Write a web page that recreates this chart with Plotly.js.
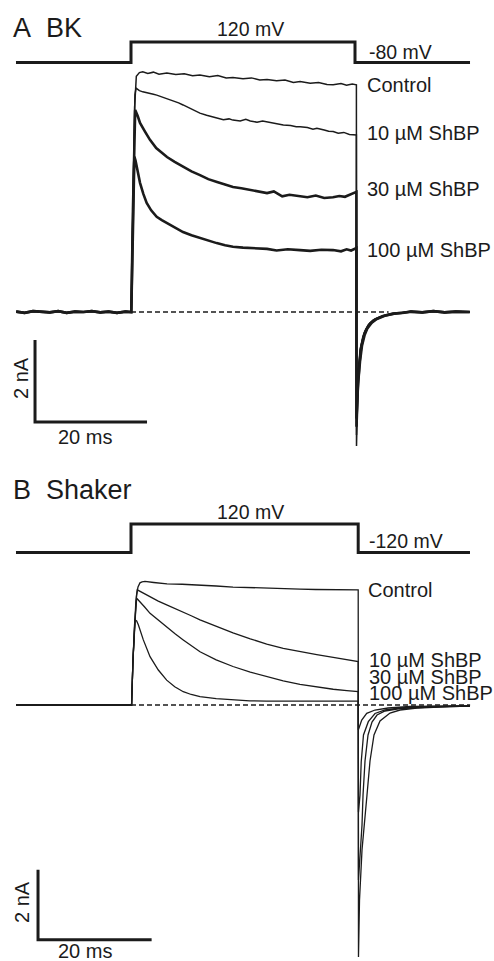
<!DOCTYPE html>
<html>
<head>
<meta charset="utf-8">
<script src="https://cdn.plot.ly/plotly-3.0.1.min.js"></script>
<style>html,body{margin:0;padding:0;background:#fff;}#chart{width:494px;height:961px;}</style>
</head>
<body>
<div id="chart"></div>
<script>
// ---------------- Panel A : BK ----------------
// voltage protocol (mV)
const vA_t = [-20.54, 0, 0, 40, 40, 60.54];
const vA_mV = [-80, -80, 120, 120, -80, -80];

// shared pre-pulse baseline (ms, nA)
const preA_t = [-20.5,-19,-17.5,-16,-14.5,-13,-11.5,-10,-8.5,-7,-5.5,-4,-2.5,-1,0];
const preA_I = [0.01,-0.02,0.02,0,-0.01,0.02,-0.02,0.01,0,0.02,-0.01,0.01,-0.02,0.01,0];
// shared post-tail baseline
const postA_t = [50,52,54,56,58,60.5];
const postA_I = [0.01,-0.01,0.02,-0.01,0.01,0];

// Control
const ctrlA_t = [0.05,0.36,0.65,0.95,1.5,2.1,3,4,5,6.4,8,9.5,11,12.3,14,15.5,17,18.2,20,21.5,23,24.3,26,27.5,29,30.2,32,33.5,35,36.1,37.5,38.5,39.5,40.25];
const ctrlA_I = [0,2.6,5.0,5.75,5.84,5.86,5.82,5.85,5.80,5.83,5.79,5.81,5.76,5.78,5.74,5.77,5.71,5.72,5.69,5.71,5.66,5.67,5.64,5.66,5.60,5.62,5.58,5.60,5.55,5.54,5.57,5.53,5.56,5.54];
const ctrlA_tailT = [40.27,40.45,40.63,40.89,41.25,41.61,42.32,43.21,44.46,46.25,48.04];
const ctrlA_tailI = [-3.27,-2.15,-1.41,-0.93,-0.68,-0.51,-0.32,-0.20,-0.12,-0.05,-0.02];

// 10 uM ShBP
const s10A_t = [0.05,0.35,0.7,0.9,1.5,2.1,3,4,4.6,5.5,6.4,7.5,8.5,9.3,10.5,11.5,12.3,13.5,14.5,15.3,16.5,17.5,18.2,19.5,20.5,21.3,22.5,23.5,24.3,25.5,26.5,27.2,28.5,29.5,30.2,31.5,32.5,33.2,34.5,35.3,36.1,37,38,39,40.25];
const s10A_I = [0,2.6,5.3,5.46,5.40,5.37,5.35,5.31,5.29,5.25,5.21,5.15,5.10,5.05,4.97,4.90,4.85,4.80,4.76,4.73,4.69,4.71,4.68,4.66,4.70,4.66,4.63,4.66,4.64,4.60,4.58,4.56,4.55,4.52,4.52,4.50,4.46,4.48,4.44,4.41,4.40,4.36,4.38,4.33,4.32];
const s10A_tailT = [40.27,40.45,40.7,41.0,41.4,41.8,42.5,43.4,44.7,46.5,48.2];
const s10A_tailI = [-3.0,-2.0,-1.3,-0.88,-0.63,-0.47,-0.30,-0.19,-0.11,-0.05,-0.02];

// 30 uM ShBP
const s30A_t = [0.05,0.35,0.65,0.75,1.2,1.61,2.5,3.39,4.5,5.5,6.43,7.8,9.29,10.8,12.32,13.8,15.36,16.8,18.21,19.7,21.25,22.8,24.29,25.5,27,28.3,30.18,31.5,33,34.5,36.07,37.2,38.2,39.2,40.25];
const s30A_I = [0,2.5,4.9,4.93,4.78,4.61,4.40,4.20,4.0,3.88,3.78,3.66,3.54,3.43,3.34,3.24,3.17,3.10,3.05,3.02,2.98,2.93,2.90,2.94,2.82,2.86,2.83,2.80,2.84,2.78,2.80,2.83,2.81,2.86,2.93];
const s30A_tailT = [40.27,40.5,40.8,41.1,41.5,42.0,42.7,43.6,45.0,46.8,48.5];
const s30A_tailI = [-2.8,-1.85,-1.25,-0.85,-0.60,-0.43,-0.28,-0.18,-0.10,-0.04,-0.02];

// 100 uM ShBP
const s100A_t = [0.05,0.35,0.6,0.8,1.02,1.3,1.61,2.2,2.8,3.6,4.59,5.5,6.38,7.8,9.29,10.8,12.32,13.8,15.3,16.8,18.21,20,22,24.29,26,28,30.18,32,34,36.07,37.5,38.5,39.3,40.25];
const s100A_I = [0,2.0,3.79,3.70,3.54,3.35,3.15,2.88,2.66,2.48,2.32,2.24,2.17,2.05,1.95,1.87,1.80,1.74,1.68,1.63,1.59,1.57,1.55,1.54,1.50,1.53,1.51,1.49,1.52,1.51,1.48,1.53,1.50,1.56];
const s100A_tailT = [40.27,40.55,40.9,41.25,41.7,42.2,43.0,43.9,45.3,47.0,48.8];
const s100A_tailI = [-2.6,-1.75,-1.2,-0.82,-0.57,-0.40,-0.26,-0.17,-0.09,-0.04,-0.02];

const zeroA_t = [0, 46];
const scaleA_t = [-17.14, -17.14, 2.86];
const scaleA_I = [-0.68, -2.68, -2.68];

// ---------------- Panel B : Shaker ----------------
const vB_t = [-20.25, 0, 0, 40, 40, 59.68];
const vB_mV = [-120, -120, 120, 120, -120, -120];

const preB_t = [-20.25, 0];
const preB_I = [0, 0];

const ctrlB_t = [0.1,0.35,0.62,0.97,1.23,1.58,1.94,2.46,4,6.34,9,12.15,15,17.96,21,23.94,27,29.75,32.5,35,37.5,40];
const ctrlB_I = [0,1.29,2.29,3.14,3.37,3.49,3.52,3.53,3.50,3.46,3.45,3.43,3.40,3.37,3.36,3.34,3.32,3.31,3.30,3.29,3.30,3.29];
const ctrlB_tailT = [40.05,40.23,40.67,41.2,41.55,42.08,42.78,43.84,45.6,47.36,50.35,56.16,59.68];
const ctrlB_tailI = [-7.2,-5.57,-4.14,-3.29,-2.57,-1.6,-0.857,-0.457,-0.229,-0.143,-0.086,-0.043,-0.029];

const s10B_t = [0.1,0.35,0.62,0.85,1.11,2.0,3.35,4.8,6.28,7.7,9.15,10.6,12.15,15,17.96,21,23.9,26.8,29.75,32.7,35.6,38,40];
const s10B_I = [0,1.29,2.29,2.95,3.29,3.21,3.09,2.97,2.86,2.76,2.67,2.55,2.43,2.24,2.06,1.89,1.74,1.62,1.52,1.44,1.36,1.29,1.24];
const s10B_tailT = [40.05,40.32,40.67,40.85,41.2,41.73,42.43,43.31,44.72,47.36,52.64,59.68];
const s10B_tailI = [-5.0,-4.43,-3.43,-2.57,-1.6,-0.857,-0.486,-0.286,-0.171,-0.1,-0.057,-0.029];

const s30B_t = [0.1,0.35,0.62,1.0,1.6,2.4,3.35,4.8,6.28,7.7,9.2,10.6,12.15,15,17.96,21,23.9,26.8,29.75,32.7,35.6,38,40];
const s30B_I = [0,1.29,2.29,3.05,2.95,2.80,2.62,2.42,2.24,2.04,1.86,1.69,1.52,1.29,1.10,0.94,0.81,0.69,0.59,0.51,0.45,0.41,0.38];
const s30B_tailT = [40.05,40.32,40.53,40.93,41.78,42.96,44.72,47.36,52.64,59.68];
const s30B_tailI = [-3.06,-2.57,-1.63,-0.857,-0.477,-0.243,-0.143,-0.086,-0.043,-0.029];

const s100B_t = [0.1,0.35,0.55,0.70,1.0,1.29,2.17,3.35,4.81,6.28,7.7,9.2,10.6,12.15,15,17.96,20.9,23.9,30,35,40];
const s100B_I = [0,1.29,2.0,2.43,2.40,2.29,1.86,1.38,1.0,0.71,0.52,0.38,0.30,0.24,0.18,0.14,0.12,0.11,0.11,0.11,0.11];
const s100B_tailT = [40.02,40.62,41.5,42.96,45.25,49.12,59.68];
const s100B_tailI = [-0.714,-0.429,-0.237,-0.143,-0.086,-0.043,-0.029];

const zeroB_t = [0, 59.7];
const scaleB_t = [-16.37, -16.37, 3.63];
const scaleB_I = [-4.71, -6.71, -6.71];

// ---------------- build ----------------
const INK = '#1b1b1b';
function cat(...arrs){ return [].concat(...arrs); }
function tr(x, y, w, xa, ya, dash){
  return {type:'scatter', mode:'lines', x:x, y:y, xaxis:xa, yaxis:ya, hoverinfo:'skip',
          line:{color:INK, width:w, dash:dash||'solid', shape:'linear'}, showlegend:false};
}
const data = [
  // A
  tr(zeroA_t, [0,0], 1.3, 'x', 'y', '5px,3px'),
  tr(vA_t, vA_mV, 3, 'x', 'y2'),
  tr(cat(preA_t, ctrlA_t, ctrlA_tailT, postA_t), cat(preA_I, ctrlA_I, ctrlA_tailI, postA_I), 1.5, 'x', 'y'),
  tr(cat(preA_t, s10A_t, s10A_tailT, postA_t), cat(preA_I, s10A_I, s10A_tailI, postA_I), 1.5, 'x', 'y'),
  tr(cat(preA_t, s30A_t, s30A_tailT, postA_t), cat(preA_I, s30A_I, s30A_tailI, postA_I), 2.6, 'x', 'y'),
  tr(cat(preA_t, s100A_t, s100A_tailT, postA_t), cat(preA_I, s100A_I, s100A_tailI, postA_I), 2.6, 'x', 'y'),
  tr(scaleA_t, scaleA_I, 3, 'x', 'y'),
  // B
  tr(zeroB_t, [0,0], 1.3, 'x2', 'y3', '5px,3px'),
  tr(vB_t, vB_mV, 3, 'x2', 'y4'),
  tr(cat(preB_t, ctrlB_t, ctrlB_tailT), cat(preB_I, ctrlB_I, ctrlB_tailI), 1.3, 'x2', 'y3'),
  tr(cat(preB_t, s10B_t, s10B_tailT), cat(preB_I, s10B_I, s10B_tailI), 1.3, 'x2', 'y3'),
  tr(cat(preB_t, s30B_t, s30B_tailT), cat(preB_I, s30B_I, s30B_tailI), 1.3, 'x2', 'y3'),
  tr(cat(preB_t, s100B_t, s100B_tailT), cat(preB_I, s100B_I, s100B_tailI), 1.3, 'x2', 'y3'),
  tr(scaleB_t, scaleB_I, 3, 'x2', 'y3')
];

const W = 494, H = 961;
const FONT = 'Liberation Sans, Arial, Helvetica, sans-serif';
function ann(text, px, py, size, xanchor, angle){
  return {text:text, xref:'paper', yref:'paper', x:px/W, y:1-py/H, xanchor:xanchor||'left', yanchor:'middle',
          showarrow:false, textangle:angle||0, borderpad:0, borderwidth:0, font:{family:FONT, size:size, color:INK}};
}
const annotations = [
  ann('A\u00a0\u00a0BK', 13, 28, 27),
  ann('120 mV', 250, 29, 19.5, 'center'),
  ann('-80 mV', 369, 52, 19.5),
  ann('Control', 367, 85, 20),
  ann('10 \u00b5M ShBP', 367, 133, 20),
  ann('30 \u00b5M ShBP', 367, 189, 20),
  ann('100 \u00b5M ShBP', 367, 250, 20),
  ann('2 nA', 21, 378, 20, 'center', -90),
  ann('20 ms', 85, 437, 20, 'center'),
  ann('B\u00a0\u00a0Shaker', 13, 490, 27),
  ann('120 mV', 250, 512, 19.5, 'center'),
  ann('-120 mV', 369, 541, 19.5),
  ann('Control', 368, 590, 20),
  ann('10 \u00b5M ShBP', 369, 660, 20),
  ann('30 \u00b5M ShBP', 369, 677, 20),
  ann('100 \u00b5M ShBP', 369, 693, 20),
  ann('2 nA', 22, 902, 20, 'center', -90),
  ann('20 ms', 85, 951, 20, 'center')
];

const hid = {visible:false, fixedrange:true};
const layout = {
  width: W, height: H,
  margin: {l:0, r:0, t:0, b:0, pad:0},
  paper_bgcolor:'#ffffff', plot_bgcolor:'#ffffff',
  showlegend:false,
  xaxis: Object.assign({range:[-131/5.6, (494-131)/5.6], domain:[0,1], anchor:'y'}, hid),
  xaxis2: Object.assign({range:[-131/5.68, (494-131)/5.68], domain:[0,1], overlaying:'x', anchor:'y3'}, hid),
  yaxis: Object.assign({range:[(312-961)/41, 312/41], domain:[0,1], anchor:'x'}, hid),
  yaxis2: Object.assign({range:[-80-(961-62.5)/0.1025, -80+62.5/0.1025], domain:[0,1], overlaying:'y', anchor:'x'}, hid),
  yaxis3: Object.assign({range:[(705-961)/35, 705/35], domain:[0,1], overlaying:'y', anchor:'x2'}, hid),
  yaxis4: Object.assign({range:[-120-(961-552.5)/0.11875, -120+552.5/0.11875], domain:[0,1], overlaying:'y', anchor:'x2'}, hid),
  annotations: annotations
};
Plotly.newPlot('chart', data, layout, {staticPlot:true, displayModeBar:false});
</script>
</body>
</html>
